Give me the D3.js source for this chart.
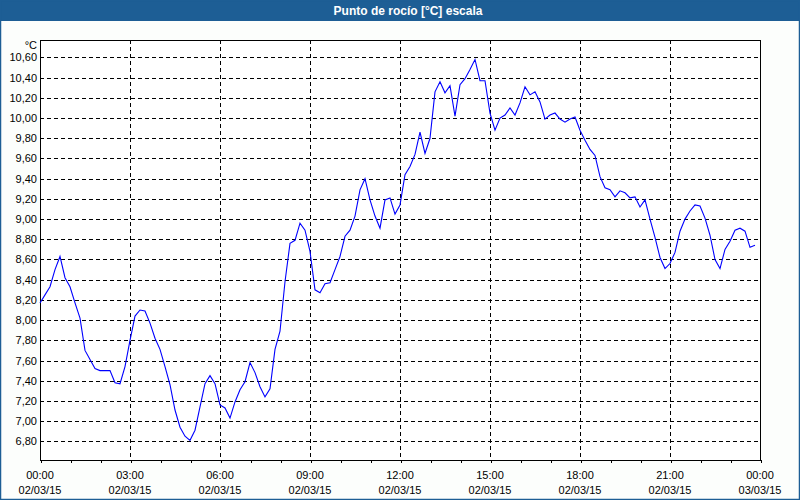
<!DOCTYPE html>
<html>
<head>
<meta charset="utf-8">
<script src="https://cdn.jsdelivr.net/npm/d3@7"></script>
<style>
  html, body { margin: 0; padding: 0; background: #fcfefc; }
  svg { display: block; }
  text { font-family: "Liberation Sans", Arial, sans-serif; }
</style>
</head>
<body>
<svg id="chart" width="800" height="500"></svg>
<script>
const title = "Punto de rocío [°C] escala";
const unitLabel = "°C";
const startTime = "2015-03-02T00:00:00";
const endTime = "2015-03-03T00:00:00";
const sampleMinutes = 10;
// Dew point values (°C), one every 10 minutes from 00:00 to 23:50
const dewPoint = [
  8.17, 8.25, 8.33, 8.50, 8.63, 8.42, 8.33, 8.17, 8.02, 7.70,
  7.61, 7.52, 7.50, 7.50, 7.50, 7.38, 7.37, 7.54, 7.80, 8.04,
  8.10, 8.09, 7.97, 7.82, 7.71, 7.54, 7.36, 7.11, 6.94, 6.85,
  6.81, 6.91, 7.14, 7.37, 7.45, 7.37, 7.16, 7.13, 7.03, 7.19,
  7.31, 7.39, 7.58, 7.48, 7.34, 7.24, 7.32, 7.71, 7.89, 8.38,
  8.76, 8.79, 8.96, 8.89, 8.68, 8.30, 8.27, 8.36, 8.37, 8.50,
  8.63, 8.83, 8.89, 9.03, 9.29, 9.40, 9.19, 9.03, 8.91, 9.19,
  9.21, 9.05, 9.14, 9.44, 9.52, 9.64, 9.86, 9.65, 9.80, 10.26,
  10.36, 10.25, 10.32, 10.02, 10.33, 10.39, 10.48, 10.58, 10.37, 10.37,
  10.05, 9.88, 10.00, 10.03, 10.10, 10.03, 10.15, 10.31, 10.23, 10.26,
  10.16, 9.99, 10.03, 10.05, 9.99, 9.96, 9.99, 10.01, 9.88, 9.78,
  9.69, 9.63, 9.42, 9.31, 9.29, 9.22, 9.28, 9.26, 9.21, 9.22,
  9.12, 9.19, 9.00, 8.82, 8.62, 8.51, 8.56, 8.67, 8.88, 9.00,
  9.08, 9.14, 9.13, 9.01, 8.84, 8.60, 8.51, 8.70, 8.78, 8.89,
  8.91, 8.88, 8.72, 8.74
];
const yTicks = [6.8, 7.0, 7.2, 7.4, 7.6, 7.8, 8.0, 8.2, 8.4, 8.6, 8.8, 9.0, 9.2, 9.4, 9.6, 9.8, 10.0, 10.2, 10.4, 10.6];
const yDomain = [6.615, 10.773];
const majorTickHours = [0, 3, 6, 9, 12, 15, 18, 21, 24];

const svg = d3.select("#chart");
const W = 800, H = 500;
const m = { left: 40, right: 760, top: 40, bottom: 460 };

// background and frame
svg.append("rect").attr("x", 0).attr("y", 0).attr("width", W).attr("height", H).attr("fill", "#fcfefc");
svg.append("rect").attr("x", 0).attr("y", 0).attr("width", W).attr("height", 21).attr("fill", "#1d5e95");
svg.append("rect").attr("x", 0.5).attr("y", 0.5).attr("width", W - 1).attr("height", H - 1)
  .attr("fill", "none").attr("stroke", "#1d5e95").attr("stroke-width", 1.5);
svg.append("text").attr("x", 408).attr("y", 15).attr("text-anchor", "middle")
  .attr("fill", "#ffffff").attr("font-weight", "bold").attr("font-size", "12px").text(title);

const parse = d3.isoParse;
const t0 = parse(startTime), t1 = parse(endTime);
const x = d3.scaleTime().domain([t0, t1]).range([m.left, m.right]);
const y = d3.scaleLinear().domain(yDomain).range([m.bottom, m.top]);

const data = dewPoint.map((v, i) => ({ t: new Date(t0.getTime() + i * sampleMinutes * 60000), v }));

svg.append("rect").attr("x", m.left).attr("y", m.top).attr("width", m.right - m.left).attr("height", m.bottom - m.top)
  .attr("fill", "#ffffff");

// horizontal grid
svg.append("g").selectAll("line").data(yTicks).join("line")
  .attr("x1", m.left).attr("x2", m.right)
  .attr("y1", d => Math.round(y(d)) + 0.5).attr("y2", d => Math.round(y(d)) + 0.5)
  .attr("stroke", "#000").attr("stroke-dasharray", "4,3").attr("shape-rendering", "crispEdges");

// vertical grid
const hourTimes = d3.range(0, 25).map(h => new Date(t0.getTime() + h * 3600000));
const majorTimes = majorTickHours.filter(h => h > 0 && h < 24).map(h => new Date(t0.getTime() + h * 3600000));
svg.append("g").selectAll("line").data(majorTimes).join("line")
  .attr("x1", d => Math.round(x(d)) + 0.5).attr("x2", d => Math.round(x(d)) + 0.5)
  .attr("y1", m.top).attr("y2", m.bottom)
  .attr("stroke", "#000").attr("stroke-dasharray", "4,3").attr("shape-rendering", "crispEdges");

// y labels
const fmtY = v => d3.format(".2f")(v).replace(".", ",");
svg.append("g").selectAll("text").data(yTicks).join("text")
  .attr("x", 37).attr("y", d => y(d) + 4).attr("text-anchor", "end")
  .attr("font-size", "11px").attr("fill", "#000").text(fmtY);
svg.append("text").attr("x", 37).attr("y", 49).attr("text-anchor", "end")
  .attr("font-size", "11px").attr("fill", "#000").text(unitLabel);

// x axis ticks
const xAxis = d3.axisBottom(x).tickValues(hourTimes).tickSize(3).tickFormat("");
const gx = svg.append("g").attr("transform", `translate(0.5,${m.bottom})`).call(xAxis);
gx.select(".domain").remove();
gx.selectAll("line").attr("shape-rendering", "crispEdges");

const majorLabelTimes = majorTickHours.map(h => new Date(t0.getTime() + h * 3600000));
const fmtTime = d3.timeFormat("%H:%M"), fmtDate = d3.timeFormat("%d/%m/%y");
const lbl = svg.append("g").selectAll("g").data(majorLabelTimes).join("g");
lbl.append("text").attr("x", d => x(d)).attr("y", 479).attr("text-anchor", "middle")
  .attr("font-size", "11px").attr("fill", "#000").text(fmtTime);
lbl.append("text").attr("x", d => x(d)).attr("y", 494).attr("text-anchor", "middle")
  .attr("font-size", "11px").attr("fill", "#000").text(fmtDate);

// plot frame
svg.append("rect").attr("x", m.left + 0.5).attr("y", m.top + 0.5)
  .attr("width", m.right - m.left).attr("height", m.bottom - m.top)
  .attr("fill", "none").attr("stroke", "#000").attr("shape-rendering", "crispEdges");

// line
const line = d3.line().x(d => x(d.t)).y(d => y(d.v));
svg.append("path").datum(data).attr("d", line)
  .attr("fill", "none").attr("stroke", "#0000ff").attr("stroke-width", 1.1);
</script>
</body>
</html>
